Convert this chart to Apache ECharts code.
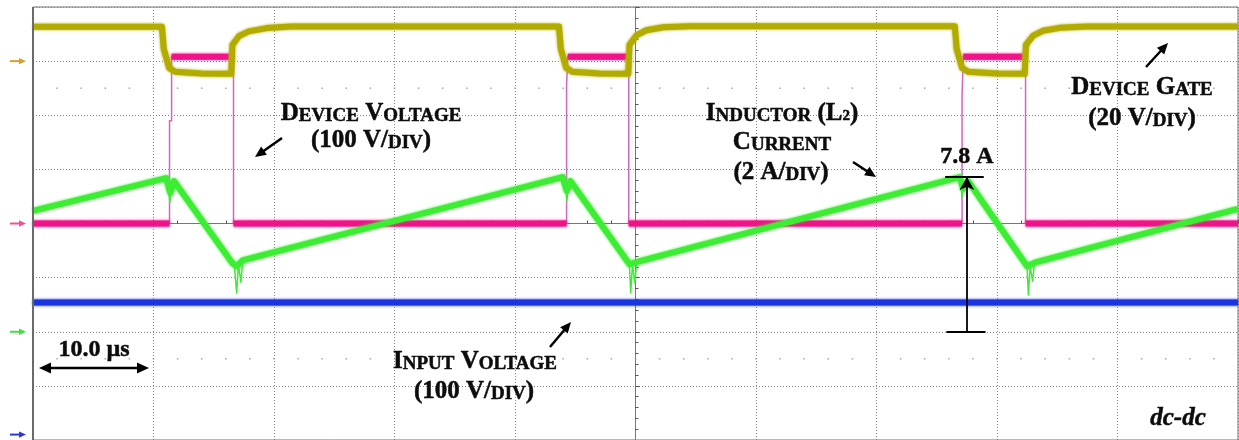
<!DOCTYPE html>
<html>
<head>
<meta charset="utf-8">
<script src="https://cdn.jsdelivr.net/npm/echarts@6/dist/echarts.min.js"></script>
<style>
  html, body { margin: 0; padding: 0; background: #fff; }
  #chart { width: 1239px; height: 440px; }
</style>
</head>
<body>
<div id="chart"></div>
<script>
// ---- Time base: 10 µs/div, 10 divisions, t = 0 at the screen centre ----
const TIME_MIN = -50;
const TIME_MAX = 50;
const TIME_PER_DIV = 10;
const DIV_HALF = 4;                 // 8 vertical divisions, ±4 from centre

// ---- Channel scales (units/div) and ground-marker positions (div from centre) ----
const GATE_PER_DIV = 20,     GATE_GROUND = 3;      // CH1 device gate, V
const DEVICE_PER_DIV = 100,  DEVICE_GROUND = 0;    // CH2 device voltage, V
const INPUT_PER_DIV = 100,   INPUT_GROUND = -3.9;  // CH3 input voltage, V
const CURRENT_PER_DIV = 2.73, CURRENT_GROUND = -2; // CH4 inductor current, A

const PEAK_CURRENT = 7.8;           // A, annotated peak of the inductor current

// ---- Traces: [time µs, value] ----
const gateTrace = [
  [-50, 12.7], [-39.3, 12.7], [-39.15, 4.5], [-38.7, -2.5], [-38.2, -3.9], [-36, -4.6], [-33.55, -4.7],
  [-33.45, 6.0], [-32.9, 9.3], [-32.1, 11.0], [-30.6, 12.2], [-28.6, 12.8], [-6.35, 12.8],
  [-6.2, 4.5], [-5.75, -2.5], [-5.25, -3.9], [-3, -4.6], [-0.6, -4.7],
  [-0.5, 6.0], [0.1, 9.6], [0.9, 11.4], [2.3, 12.5], [4.5, 12.9], [26.5, 12.9],
  [26.65, 4.5], [27.1, -2.5], [27.6, -3.9], [30, -4.6], [32.3, -4.7],
  [32.4, 6.0], [33.0, 9.4], [33.8, 11.2], [35.2, 12.3], [37.4, 12.8], [50, 12.8]
];

const deviceTrace = [
  [-50, 0], [-38.67, 0], [-38.67, 190], [-38.5, 190], [-38.5, 308], [-33.36, 308], [-33.36, 0],
  [-5.72, 0], [-5.72, 255], [-5.62, 255], [-5.62, 308], [-0.56, 308], [-0.56, 0],
  [27.1, 0], [27.1, 235], [27.2, 235], [27.2, 308], [32.37, 308], [32.37, 0], [50, 0]
];

const inputTrace = [[-50, 244], [50, 244]];

const currentTrace = [
  [-50, 6.1], [-38.95, 7.75], [-38.6, 7.0], [-38.3, 7.6], [-33.45, 3.45], [-33.1, 3.3], [-32.6, 3.6],
  [-6.05, PEAK_CURRENT], [-5.7, 7.1], [-5.4, 7.6], [-0.5, 3.4], [0.3, 3.55],
  [26.9, PEAK_CURRENT], [27.2, 7.2], [27.6, 7.6], [32.5, 3.3], [33.2, 3.5], [50, 6.2]
];

// fast switching transients on the current (drawn as a thin trace)
const currentSpikes = [
  [-38.75, 7.6], [-38.65, 6.5], [-38.5, 7.5], null,
  [-33.3, 3.4], [-33.1, 1.95], [-32.95, 3.4], [-32.75, 2.5], [-32.6, 3.5], null,
  [-5.8, 7.7], [-5.7, 6.6], [-5.55, 7.5], null,
  [-0.5, 3.3], [-0.4, 1.95], [-0.25, 3.4], [-0.05, 2.45], [0.1, 3.5], null,
  [27.0, 7.7], [27.1, 6.8], [27.25, 7.5], null,
  [32.5, 3.2], [32.6, 1.85], [32.75, 3.3], [32.95, 2.55], [33.1, 3.4]
];

// annotation bar for the peak current
const PEAK_MARK_T = 27.5;
const PEAK_BAR_TOP = [25.7, 28.9];
const PEAK_BAR_BOTTOM = [25.8, 29.05];

// ---- Colours ----
const C_GATE = '#b3ac00';
const C_DEVICE = '#ee1488';
const C_DEVICE_EDGE = '#d265c2';
const C_INPUT = '#1a34e2';
const C_CURRENT = '#3ded33';
const C_GRID = '#858585';
const C_TEXT = '#0c0c0c';

// dotted graticule rows at ±2.5 div
const dotRows = [2.5, -2.5];
const dotData = [];
dotRows.forEach(r => {
  for (let t = TIME_MIN + 2; t < TIME_MAX; t += 2) dotData.push([t, r]);
});

// steady levels of the device trace only (long flat runs); edges are drawn thin
function levelsOnly(trace, minRun) {
  const out = [];
  for (let i = 1; i < trace.length; i++) {
    const a = trace[i - 1], b = trace[i];
    if (a[1] === b[1] && b[0] - a[0] >= minRun) {
      out.push(a, b, [b[0], '-']);
    }
  }
  return out;
}

function chAxis(perDiv, ground) {
  return {
    type: 'value', show: false,
    min: (-DIV_HALF - ground) * perDiv,
    max: (DIV_HALF - ground) * perDiv,
    splitLine: { show: false }
  };
}

function traceSeries(name, data, yIdx, color, width, glow) {
  return {
    name, type: 'line', data, xAxisIndex: 0, yAxisIndex: yIdx,
    showSymbol: false, symbol: 'none', silent: true, animation: false,
    connectNulls: false, clip: true,
    lineStyle: { color, width, shadowColor: color, shadowBlur: glow || 0, cap: 'butt', join: 'round' }
  };
}

const chart = echarts.init(document.getElementById('chart'), null, { renderer: 'canvas' });

const option = {
  backgroundColor: '#ffffff',
  animation: false,
  grid: {
    left: 33, top: 7, width: 1205, height: 437,
    show: true, borderColor: '#707070', borderWidth: 1, backgroundColor: 'transparent'
  },
  xAxis: {
    type: 'value', min: TIME_MIN, max: TIME_MAX, interval: TIME_PER_DIV,
    axisLine: { show: true, onZero: true, onZeroAxisIndex: 0, lineStyle: { color: '#777', width: 1 } },
    axisTick: { show: true, inside: true, length: 4, lineStyle: { color: '#555' } },
    minorTick: { show: true, splitNumber: 5, length: 3, lineStyle: { color: '#555' } },
    axisLabel: { show: false },
    splitLine: { show: true, lineStyle: { color: C_GRID, width: 1, type: [1, 2] } }
  },
  yAxis: [
    {
      type: 'value', min: -DIV_HALF, max: DIV_HALF, interval: 1,
      axisLine: { show: true, onZero: true, lineStyle: { color: '#777', width: 1 } },
      axisTick: { show: true, inside: true, length: 4, lineStyle: { color: '#555' } },
      minorTick: { show: true, splitNumber: 5, length: 3, lineStyle: { color: '#555' } },
      axisLabel: { show: false },
      splitLine: { show: true, lineStyle: { color: C_GRID, width: 1, type: [1, 2] } }
    },
    chAxis(GATE_PER_DIV, GATE_GROUND),
    chAxis(DEVICE_PER_DIV, DEVICE_GROUND),
    chAxis(INPUT_PER_DIV, INPUT_GROUND),
    chAxis(CURRENT_PER_DIV, CURRENT_GROUND)
  ],
  series: [
    {
      type: 'scatter', data: dotData, yAxisIndex: 0, symbol: 'rect', symbolSize: 1.6,
      silent: true, itemStyle: { color: '#9a9a9a' }, animation: false
    },
    traceSeries('Input Voltage', inputTrace, 3, C_INPUT, 6, 3),
    traceSeries('Device Voltage edges', deviceTrace, 2, C_DEVICE_EDGE, 1.5, 0),
    traceSeries('Device Voltage', levelsOnly(deviceTrace, 0.5), 2, C_DEVICE, 6, 3),
    traceSeries('Device Gate', gateTrace, 1, C_GATE, 6, 3),
    Object.assign(traceSeries('Inductor Current', currentTrace, 4, C_CURRENT, 6, 3), {
      markLine: {
        silent: true, animation: false, symbol: ['none', 'none'],
        label: { show: false },
        lineStyle: { color: '#000', width: 1.8, type: 'solid' },
        emphasis: { disabled: true },
        data: [
          [{ coord: [PEAK_BAR_TOP[0], PEAK_CURRENT] }, { coord: [PEAK_BAR_TOP[1], PEAK_CURRENT] }],
          [{ coord: [PEAK_BAR_BOTTOM[0], 0] }, { coord: [PEAK_BAR_BOTTOM[1], 0] }],
          [{ coord: [PEAK_MARK_T, 0], symbol: 'none' },
           { coord: [PEAK_MARK_T, PEAK_CURRENT], symbol: 'arrow', symbolSize: [11, 13] }]
        ]
      }
    }),
    traceSeries('Inductor Current transients', currentSpikes, 4, C_CURRENT, 1.5, 0)
  ]
};

chart.setOption(option);

// ---- Annotations ----
const FONT = '"Liberation Serif", "Times New Roman", serif';
const INK = { stroke: C_TEXT, lineWidth: 0.5 };
const rich = {
  c:   Object.assign({ fontSize: 25, fontWeight: 'bold', fontFamily: FONT, lineHeight: 28, verticalAlign: 'bottom', fill: C_TEXT }, INK),
  s:   Object.assign({ fontSize: 19, fontWeight: 'bold', fontFamily: FONT, lineHeight: 24, verticalAlign: 'bottom', fill: C_TEXT }, INK),
  // subscript: padded from the top so it sits below the baseline
  sub: Object.assign({ fontSize: 15, fontWeight: 'bold', fontFamily: FONT, lineHeight: 17, padding: [11, 0, 0, 0], verticalAlign: 'top', fill: C_TEXT }, INK)
};

function label(text, x, y, extra) {
  return {
    type: 'text', x, y, silent: true, z: 100,
    style: Object.assign({
      text, rich, fill: C_TEXT, stroke: C_TEXT, lineWidth: 0.5,
      font: 'bold 25px ' + FONT,
      align: 'center', verticalAlign: 'middle',
      textAlign: 'center', textVerticalAlign: 'middle'
    }, extra || {})
  };
}

function arrowHead(x1, y1, x2, y2, color, size) {
  const a = Math.atan2(y2 - y1, x2 - x1);
  const bx = x2 - size * Math.cos(a), by = y2 - size * Math.sin(a);
  const hw = size * 0.45;
  const px = -Math.sin(a) * hw, py = Math.cos(a) * hw;
  return {
    type: 'polygon', silent: true, z: 100,
    shape: { points: [[x2, y2], [bx + px, by + py], [bx - px, by - py]] },
    style: { fill: color }
  };
}

function arrow(x1, y1, x2, y2, color, width, size) {
  const a = Math.atan2(y2 - y1, x2 - x1);
  const ex = x2 - size * 0.8 * Math.cos(a), ey = y2 - size * 0.8 * Math.sin(a);
  return [
    { type: 'line', silent: true, z: 100, shape: { x1, y1, x2: ex, y2: ey }, style: { stroke: color, lineWidth: width } },
    arrowHead(x1, y1, x2, y2, color, size)
  ];
}

const graphics = [
  // heavier left frame edge
  { type: 'line', silent: true, z: 50, shape: { x1: 33, y1: 7, x2: 33, y2: 440 }, style: { stroke: '#6a6a6a', lineWidth: 2 } },
  label('{c|D}{s|EVICE}{c| V}{s|OLTAGE}', 371, 112),
  label('{c|(100 V/}{s|DIV}{c|)}', 371, 139),
  label('{c|I}{s|NDUCTOR}{c| (L}{sub|2}{c|)}', 782, 112),
  label('{c|C}{s|URRENT}', 782, 141),
  label('{c|(2 A/}{s|DIV}{c|)}', 781, 171),
  label('{c|D}{s|EVICE}{c| G}{s|ATE}', 1142, 86),
  label('{c|(20 V/}{s|DIV}{c|)}', 1142, 117),
  label('{c|I}{s|NPUT}{c| V}{s|OLTAGE}', 475, 360),
  label('{c|(100 V/}{s|DIV}{c|)}', 474, 390),
  label(PEAK_CURRENT.toFixed(1) + ' A', 967, 157, { font: 'bold 24px ' + FONT }),
  label(TIME_PER_DIV.toFixed(1) + ' µs', 94, 350, { font: 'bold 24px ' + FONT }),
  label('dc-dc', 1178, 419, { font: 'italic bold 25px ' + FONT }),
  ...arrow(282, 138, 255, 157, '#000', 2.5, 11),
  ...arrow(853, 162, 876, 177, '#000', 2.5, 11),
  ...arrow(1146, 67, 1168, 43, '#000', 2.5, 11),
  ...arrow(550, 347, 571, 322, '#000', 2.5, 11),
  // one-division time scale bar
  ...arrow(94, 368, 39, 368, '#000', 2.5, 12),
  ...arrow(94, 368, 149, 368, '#000', 2.5, 12)
];

// channel ground markers on the left edge, placed from each channel's axis
const markers = [
  { axis: 1, color: '#d4a12a' },
  { axis: 2, color: '#f0509a' },
  { axis: 4, color: '#44dd44' },
  { axis: 3, color: '#2a3ad8' }
];
markers.forEach(m => {
  let y = chart.convertToPixel({ yAxisIndex: m.axis }, 0);
  y = Math.min(y, 437);
  graphics.push(...arrow(10, y, 26, y, m.color, 2, 7));
});

chart.setOption({ graphic: { elements: graphics } });
</script>
</body>
</html>
